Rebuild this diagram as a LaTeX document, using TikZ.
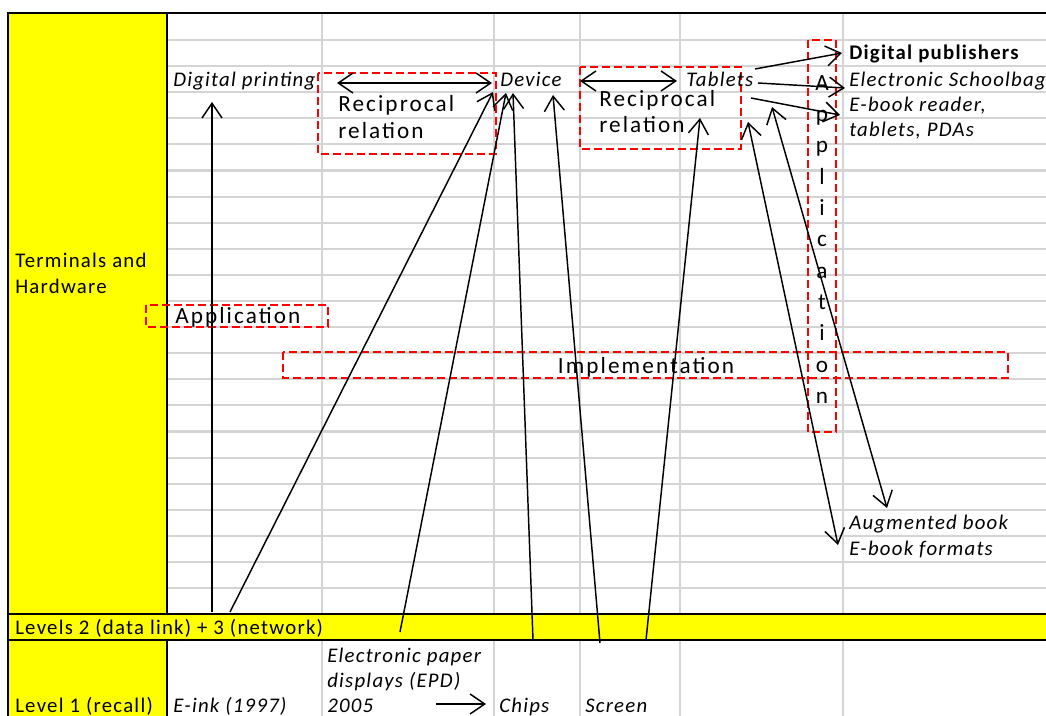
\documentclass[tikz,border=0pt]{standalone}
\usepackage{fontspec}
\setmainfont{Carlito}[LetterSpace=6]
\newfontfamily\boxfont{Carlito}[LetterSpace=9]
\usetikzlibrary{arrows.meta}
\definecolor{cellgray}{HTML}{D4D4D4}
\definecolor{hiyellow}{HTML}{FFFF00}

\begin{document}
\begin{tikzpicture}[x=0.75pt,y=-0.75pt,
    txt/.style={anchor=base west,inner sep=0pt,font=\fontsize{15.6}{18}\selectfont},
    itxt/.style={txt,font=\fontsize{15.6}{18}\selectfont\itshape},
    btxt/.style={txt,font=\fontsize{15.6}{18}\selectfont\bfseries},
    boxtxt/.style={anchor=base west,inner sep=0pt,font=\boxfont\fontsize{17.4}{20}\selectfont},
    gridline/.style={draw=cellgray,line width=1.6pt},
    frameline/.style={draw=black,line width=2.2pt},
    redbox/.style={draw=red,line width=1.1pt,dash pattern=on 6pt off 3pt},
    link/.style={line width=1.1pt,-{Straight Barb[length=11pt,width=15pt]}},
    twolink/.style={line width=1.1pt,{Straight Barb[length=11pt,width=15pt]}-{Straight Barb[length=11pt,width=15pt]}}]
    \useasboundingbox (0,0) rectangle (1046,716);

    %CELLS
    \fill[white] (0,0) rectangle (1046,716);
    \fill[hiyellow] (8,13) rectangle (167,716);
    \fill[hiyellow] (8,614) rectangle (1046,640);
    \foreach \y in {40,66.1,92.2,118.3,144.4,170.5,196.6,222.7,248.8,274.9,301,327.1,353.2,379.3,405.4,431.5,457.6,483.7,509.8,535.9,562,588.1}
        \draw[gridline] (167,\y) -- (1046,\y);
    \foreach \x in {322,494,580,680,843} {
        \draw[gridline] (\x,13) -- (\x,614);
        \draw[gridline] (\x,640) -- (\x,716);
    }
    \draw[frameline] (1046,13) -- (8,13) -- (8,716);
    \draw[frameline] (167,13) -- (167,614);
    \draw[frameline] (167,640) -- (167,716);
    \draw[frameline] (8,614) -- (1046,614);
    \draw[frameline] (8,640) -- (1046,640);

    %BOXES
    \draw[redbox] (318,73) rectangle (496,154);
    \draw[redbox] (580,67) rectangle (741,149);
    \draw[redbox] (146,305) rectangle (328,327);
    \draw[redbox] (283,352) rectangle (1008,378);
    \draw[redbox] (808,40) rectangle (836,432);

    %NODE
    \node[txt] (term) at (15,268) {Terminals and};
    \node[txt] (hard) at (15,294) {Hardware};
    \node[txt] (lev23) at (15,634) {Levels 2 (data link) + 3 (network)};
    \node[txt] (lev1) at (15,712) {Level 1 (recall)};
    \node[itxt] (eink) at (173,712) {E-ink (1997)};
    \node[itxt] (epd1) at (327,662) {Electronic paper};
    \node[itxt] (epd2) at (327,687) {displays (EPD)};
    \node[itxt] (epd3) at (327,712) {2005};
    \node[itxt] (chips) at (499,712) {Chips};
    \node[itxt] (screen) at (585,712) {Screen};
    \node[itxt] (dprint) at (173,87) {Digital printing};
    \node[itxt] (device) at (500,87) {Device};
    \node[itxt] (tablets) at (686,87) {Tablets};
    \node[btxt] (dpub) at (849,60) {Digital publishers};
    \node[itxt] (school) at (849,87) {Electronic Schoolbag};
    \node[itxt] (reader1) at (849,112) {E-book reader,};
    \node[itxt] (reader2) at (849,137) {tablets, PDAs};
    \node[itxt] (augm) at (849,529) {Augmented book};
    \node[itxt] (formats) at (849,555) {E-book formats};
    \node[boxtxt] (recip1) at (338,112) {Reciprocal};
    \node[boxtxt] (rel1) at (338,139) {relation};
    \node[boxtxt] (recip2) at (599,107) {Reciprocal};
    \node[boxtxt] (rel2) at (599,133) {relation};
    \node[boxtxt] (happ) at (175,324) {Application};
    \node[boxtxt,anchor=base] (impl) at (646,374) {Implementation};
    \node[boxtxt,anchor=north,align=center,font=\boxfont\fontsize{17.4}{23.5}\selectfont] (vapp) at (822,75)
        {A\\p\\p\\l\\i\\c\\a\\t\\i\\o\\n};

    %COORDINATES
    \coordinate (s1) at (212,612);  \coordinate (t1) at (212,102);
    \coordinate (s2) at (230,612);  \coordinate (t2) at (493,92);
    \coordinate (s3) at (400,632);  \coordinate (t3) at (506,93);
    \coordinate (s4) at (533,640);  \coordinate (t4) at (513,93);
    \coordinate (s5) at (600,643);  \coordinate (t5) at (553,95);
    \coordinate (s6) at (646,640);  \coordinate (t6) at (700,118);
    \coordinate (s7) at (838,545);  \coordinate (t7) at (748,122);
    \coordinate (s8) at (887,508);  \coordinate (t8) at (772,107);
    \coordinate (s9) at (755,69);   \coordinate (t9) at (842,53);
    \coordinate (s10) at (758,83);  \coordinate (t10) at (845,88);
    \coordinate (s11) at (751,98);  \coordinate (t11) at (840,115);
    \coordinate (r1a) at (337,83);  \coordinate (r1b) at (492,83);
    \coordinate (r2a) at (580,81);  \coordinate (r2b) at (677,81);
    \coordinate (e1a) at (436,704); \coordinate (e1b) at (486,704);

    %EDGE
    \draw[link] (s1) -- (t1);
    \draw[link] (s2) -- (t2);
    \draw[link] (s3) -- (t3);
    \draw[link] (s4) -- (t4);
    \draw[link] (s5) -- (t5);
    \draw[link] (s6) -- (t6);
    \draw[twolink] (s7) -- (t7);
    \draw[twolink] (s8) -- (t8);
    \draw[link] (s9) -- (t9);
    \draw[link] (s10) -- (t10);
    \draw[link] (s11) -- (t11);
    \draw[twolink] (r1a) -- (r1b);
    \draw[twolink] (r2a) -- (r2b);
    \draw[link] (e1a) -- (e1b);
\end{tikzpicture}
\end{document}
